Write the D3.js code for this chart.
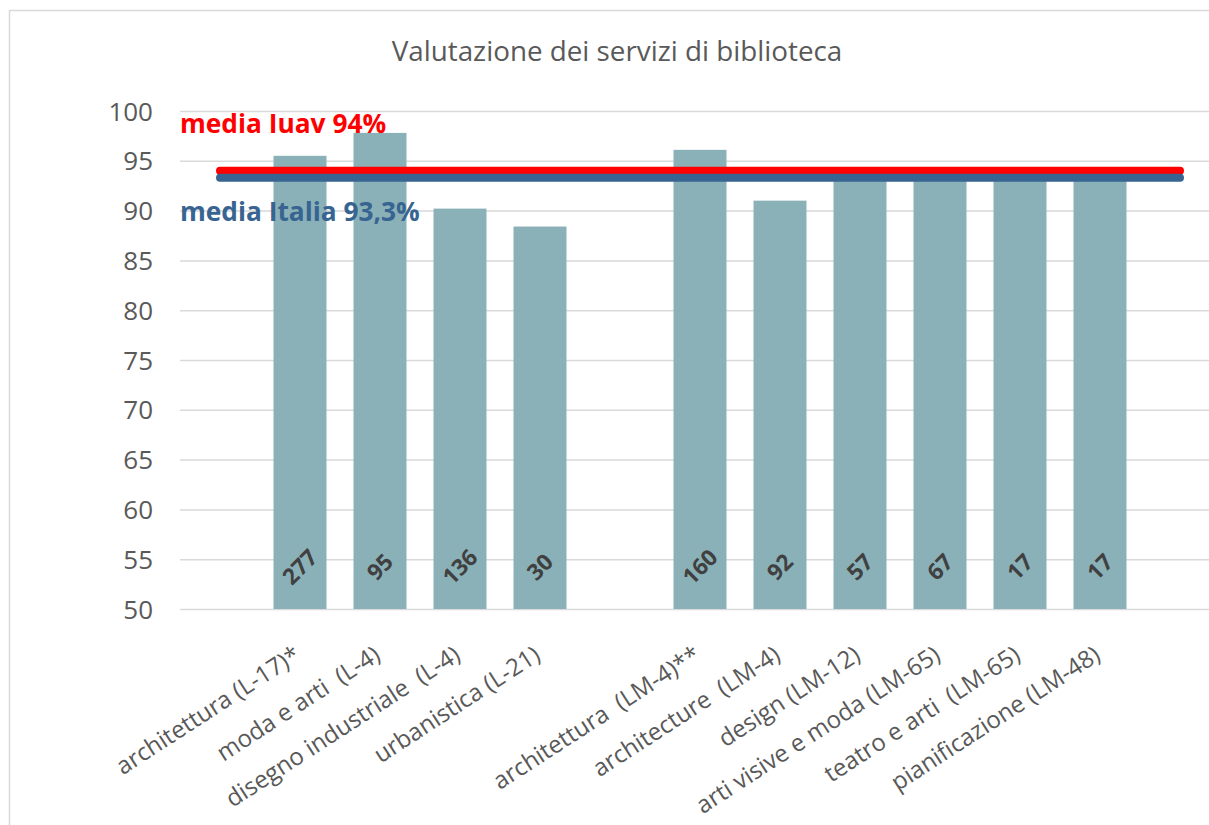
<!DOCTYPE html>
<html><head><meta charset="utf-8">
<script src="https://cdn.jsdelivr.net/npm/d3@7"></script>
<style>body{margin:0;background:#fff;overflow:hidden}svg{display:block}</style>
</head><body>
<svg id="chart" width="1209" height="825"></svg>
<script>
const categories = ["", "architettura (L-17)*", "moda e arti  (L-4)", "disegno industriale  (L-4)", "urbanistica (L-21)", "",
  "architettura  (LM-4)**", "architecture  (LM-4)", "design (LM-12)", "arti visive e moda (LM-65)", "teatro e arti  (LM-65)", "pianificazione (LM-48)", ""];
const values = [null, 95.5, 97.8, 90.2, 88.4, null, 96.1, 91.0, 93.6, 93.6, 93.6, 93.6, null];
const respondents = [null, 277, 95, 136, 30, null, 160, 92, 57, 67, 17, 17, null];
const mediaIuav = 94;
const mediaItalia = 93.3;
const yTicks = [50, 55, 60, 65, 70, 75, 80, 85, 90, 95, 100];
const title = "Valutazione dei servizi di biblioteca";
const labelIuav = "media Iuav 94%";
const labelItalia = "media Italia 93,3%";

(function () {
const svg = d3.select("#chart");
const font = "'Open Sans', sans-serif";
const plotLeft = 180, slot = 80, plotTop = 111, plotBottom = 609;
const idx = categories.map((d, i) => String(i));
const x = d3.scaleBand().domain(idx).range([plotLeft, plotLeft + slot * categories.length]).paddingInner(0.3375).paddingOuter(0.16875);
const y = d3.scaleLinear().domain([50, 100]).range([plotBottom, plotTop]);
const plotW = slot * categories.length;

// frame
svg.append("rect").attr("x", 9.5).attr("y", 10.5).attr("width", 1400).attr("height", 1000)
  .attr("fill", "none").attr("stroke", "#d9d9d9").attr("stroke-width", 1.5);

// title
svg.append("text").attr("x", 617).attr("y", 61).attr("text-anchor", "middle")
  .attr("font-family", font).attr("font-size", 27.8).attr("fill", "#595959").text(title);

// grid
const grid = svg.append("g").attr("transform", `translate(${plotLeft},0)`)
  .call(d3.axisLeft(y).tickValues(yTicks).tickSize(-plotW).tickFormat(""));
grid.select(".domain").remove();
grid.selectAll("line").attr("stroke", "#d9d9d9").attr("stroke-width", 1.5);

// y axis labels
const ya = svg.append("g").attr("transform", `translate(153,0)`)
  .call(d3.axisLeft(y).tickValues(yTicks).tickSize(0).tickPadding(0));
ya.select(".domain").remove();
ya.selectAll("text").attr("font-family", font).attr("font-size", 26).attr("fill", "#595959").attr("dy", "0.35em");

// bars
const data = categories.map((c, i) => ({i: String(i), c, v: values[i], n: respondents[i]})).filter(d => d.v != null);
svg.append("g").selectAll("rect").data(data).join("rect")
  .attr("x", d => x(d.i)).attr("width", x.bandwidth())
  .attr("y", d => y(d.v)).attr("height", d => y(50) - y(d.v))
  .attr("fill", "#8bb1b8");

// bar labels
svg.append("g").selectAll("text").data(data).join("text")
  .attr("transform", d => `translate(${x(d.i) + x.bandwidth() / 2},${y(50) - 42}) rotate(-45)`)
  .attr("text-anchor", "middle").attr("dy", "0.35em")
  .attr("font-family", font).attr("font-weight", "bold").attr("font-size", 22.5)
  .attr("fill", "#404040").text(d => d.n);

// average lines
const xc = i => x(String(i)) + x.bandwidth() / 2;
const n = categories.length;
const line = d3.line().x(d => xc(d[0])).y(d => y(d[1]));
svg.append("path").attr("d", line([[0, mediaIuav], [n - 1, mediaIuav]]))
  .attr("stroke", "#ff0000").attr("stroke-width", 8).attr("stroke-linecap", "round").attr("fill", "none");
svg.append("path").attr("d", line([[0, mediaItalia], [n - 1, mediaItalia]]))
  .attr("stroke", "#376491").attr("stroke-width", 8).attr("stroke-linecap", "round").attr("fill", "none");

// line labels
svg.append("text").attr("x", 180).attr("y", 133).attr("font-family", font).attr("font-weight", "bold")
  .attr("font-size", 26.3).attr("fill", "#ff0000").text(labelIuav);
svg.append("text").attr("x", 180).attr("y", 221).attr("font-family", font).attr("font-weight", "bold")
  .attr("font-size", 26.3).attr("fill", "#376491").text(labelItalia);

// category labels
svg.append("g").selectAll("text").data(categories.map((c, i) => ({c, i: String(i)})).filter(d => d.c))
  .join("text")
  .attr("transform", d => `translate(${x(d.i) + x.bandwidth() / 2 + 2},${plotBottom + 50}) rotate(-33)`)
  .attr("text-anchor", "end")
  .attr("font-family", font).attr("font-size", 24).attr("fill", "#595959")
  .style("white-space", "pre").text(d => d.c);
})();
</script>
</body></html>
